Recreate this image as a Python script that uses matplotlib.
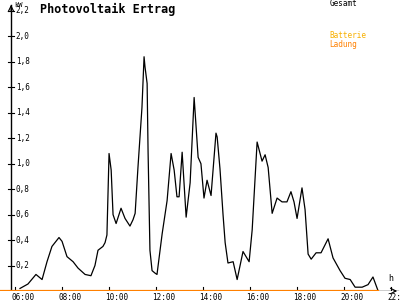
import numpy as np
import matplotlib.pyplot as plt

# hours of day and kW
hours = [6.21, 6.55, 6.89, 7.15, 7.36, 7.57, 7.87, 8.0, 8.21, 8.47, 8.68, 8.98,
         9.23, 9.40, 9.53, 9.74, 9.83, 9.91, 10.0, 10.09, 10.17, 10.3, 10.51,
         10.68, 10.89, 11.02, 11.11, 11.23, 11.4, 11.49, 11.53, 11.62, 11.66,
         11.74, 11.83, 11.96, 12.04, 12.26, 12.47, 12.64, 12.77, 12.89, 12.98,
         13.11, 13.28, 13.45, 13.62, 13.79, 13.91, 14.04, 14.17, 14.34, 14.55,
         14.6, 14.72, 14.85, 14.94, 15.06, 15.28, 15.45, 15.7, 15.83, 15.96,
         16.09, 16.3, 16.51, 16.64, 16.77, 16.94, 17.15, 17.36, 17.57, 17.74,
         17.87, 18.0, 18.21, 18.34, 18.47, 18.6, 18.81, 19.02, 19.32, 19.53,
         19.83, 20.04, 20.26, 20.47, 20.77, 21.02, 21.23, 21.45]
gesamt = [0.02, 0.055, 0.13, 0.09, 0.23, 0.35, 0.42, 0.39, 0.27, 0.23, 0.18, 0.13,
          0.12, 0.2, 0.32, 0.35, 0.38, 0.44, 1.08, 0.95, 0.6, 0.53, 0.65,
          0.57, 0.51, 0.56, 0.61, 0.97, 1.44, 1.84, 1.76, 1.63, 1.1,
          0.32, 0.16, 0.14, 0.13, 0.45, 0.71, 1.08, 0.95, 0.74, 0.74,
          1.09, 0.58, 0.85, 1.52, 1.05, 1.0, 0.73, 0.87, 0.75, 1.24,
          1.21, 0.96, 0.6, 0.38, 0.22, 0.23, 0.09, 0.31, 0.27, 0.23,
          0.48, 1.17, 1.02, 1.07, 0.97, 0.61, 0.73, 0.70, 0.70, 0.78,
          0.7, 0.57, 0.81, 0.64, 0.29, 0.25, 0.30, 0.30, 0.41, 0.26,
          0.16, 0.10, 0.09, 0.03, 0.03, 0.05, 0.11, 0.0]
ladung_hours = [5.4, 21.45]
ladung = [0.0, 0.0]

xticks = [6, 8, 10, 12, 14, 16, 18, 20, 22]
xlabels = ["06:00", "08:00", "10:00", "12:00", "14:00", "16:00", "18:00", "20:00", "22:"]
yticks = [0.2, 0.4, 0.6, 0.8, 1.0, 1.2, 1.4, 1.6, 1.8, 2.0, 2.2]
ylabels = ["0,2", "0,4", "0,6", "0,8", "1,0", "1,2", "1,4", "1,6", "1,8", "2,0", "2,2"]

mono = "DejaVu Sans Mono"

fig = plt.figure(figsize=(4, 3), dpi=100)
ax = fig.add_axes([0, 9 / 300, 1, 289 / 300])
ax.set_xlim(5.36, 22.38)
ax.set_ylim(0, 2.27)
ax.axis("off")

yaxis_x = 5.83
ax.plot([yaxis_x, yaxis_x], [0, 2.25], color="black", lw=1)
ax.annotate("", xy=(yaxis_x, 2.27), xytext=(yaxis_x, 2.18),
            arrowprops=dict(arrowstyle="->", color="black", lw=0.8))
ax.plot([5.36, 22.3], [0, 0], color="black", lw=1)
ax.annotate("", xy=(22.38, 0), xytext=(22.0, 0),
            arrowprops=dict(arrowstyle="->", color="black", lw=0.8))

for t, lab in zip(xticks, xlabels):
    ax.plot([t, t], [-0.03, 0.03], color="black", lw=0.8)
    ax.text(t - 0.15, -0.012, lab, ha="left", va="top", fontsize=5.5, family=mono)
for v, lab in zip(yticks, ylabels):
    ax.plot([yaxis_x - 0.13, yaxis_x + 0.13], [v, v], color="black", lw=0.8)
    ax.text(yaxis_x + 0.2, v, lab, ha="left", va="center", fontsize=5.5, family=mono)

ax.plot(hours, gesamt, color="black", lw=0.9)
ax.plot(ladung_hours, ladung, color="#ff8000", lw=1.6)

ax.text(yaxis_x + 0.12, 2.25, "kW", ha="left", va="center", fontsize=5, family=mono)
ax.text(21.9, 0.06, "h", ha="left", va="bottom", fontsize=6, family=mono)
fig.text(40 / 400, 1 - 9 / 300, "Photovoltaik Ertrag", ha="left", va="center",
         fontsize=8.5, fontweight="bold", family=mono)
fig.text(330 / 400, 1 - 4 / 300, "Gesamt", ha="left", va="center", fontsize=5.5, family=mono)
fig.text(329 / 400, 1 - 36 / 300, "Batterie", ha="left", va="center", fontsize=5.5,
         family=mono, color="#f8b000")
fig.text(329 / 400, 1 - 44 / 300, "Ladung", ha="left", va="center", fontsize=5.5,
         family=mono, color="#ff8000")

fig.savefig("out.png", dpi=100)
